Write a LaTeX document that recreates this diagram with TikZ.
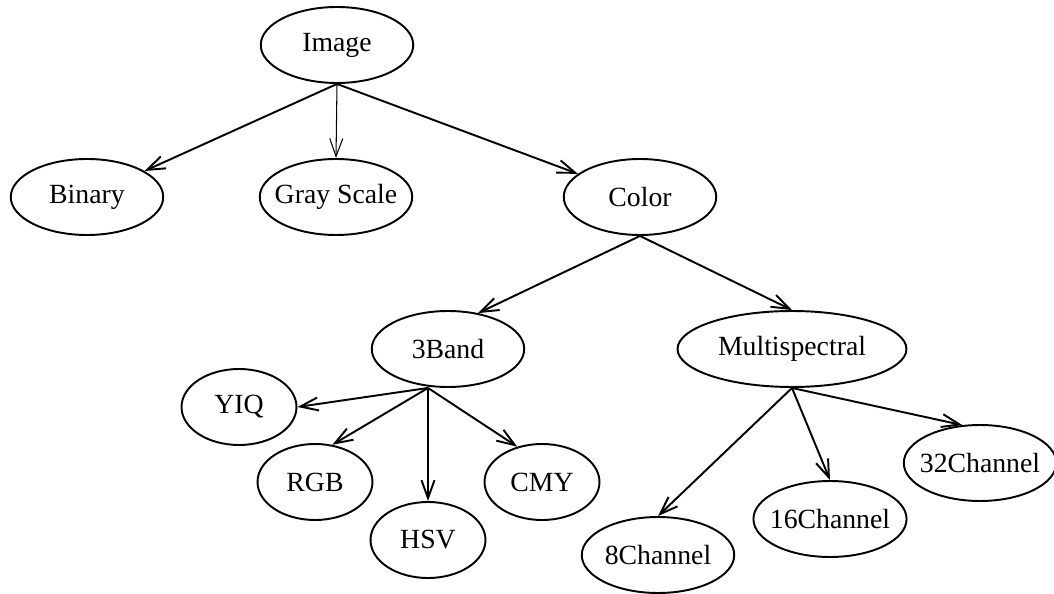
\documentclass[tikz,border=0pt]{standalone}
\usepackage{fontspec}
\setmainfont{Liberation Serif}
\usepackage{tikz}
\usetikzlibrary{arrows.meta, positioning, shapes.geometric}

\begin{document}
\begin{tikzpicture}[
  x=0.02cm, y=-0.02cm,
  oval/.style={ellipse, draw, line width=1.1pt, inner sep=0pt, minimum height=1.52cm,
               font=\fontsize{15.8}{18}\selectfont},
  smalloval/.style={oval, minimum width=2.3cm},
  midoval/.style={oval, minimum width=3.05cm},
  wideoval/.style={oval, minimum width=4.58cm},
  arr/.style={-{Straight Barb[length=3.6mm,width=2.6mm]}, line width=1.1pt}
]
  \useasboundingbox (0,0) rectangle (1054,594);

  \node[midoval] (img) at (337,45) {Image};
  \node[midoval] (bin) at (87,197) {Binary};
  \node[midoval, inner xsep=-0.18cm] (gray) at (336,197) {Gray Scale};
  \node[midoval] (col) at (640,197) {Color};

  \node[midoval] (band) at (448,349) {3Band};
  \node[wideoval] (multi) at (792,349) {Multispectral};

  \node[smalloval] (yiq) at (239,407) {YIQ};
  \node[smalloval] (rgb) at (315,482) {RGB};
  \node[smalloval] (hsv) at (428,540) {HSV};
  \node[smalloval] (cmy) at (542,482) {CMY};

  \node[midoval] (ch8) at (658,555) {8Channel};
  \node[midoval, inner xsep=-0.12cm] (ch16) at (830,519) {16Channel};
  \node[midoval, inner xsep=-0.15cm] (ch32) at (980,463) {32Channel};

  \coordinate (bandfoot) at ([xshift=-0.4cm]band.south);

  \draw[arr] (img.south) -- (bin);
  \draw[arr, line width=0.6pt] (img.south) -- (gray.north);
  \draw[arr] (img.south) -- (col);

  \draw[arr] (col.south) -- (band.50);
  \draw[arr] (col.south) -- (multi.north);

  \draw[arr] (bandfoot) -- (yiq.east);
  \draw[arr] (bandfoot) -- (rgb.65);
  \draw[arr] (bandfoot) -- (hsv.north);
  \draw[arr] (bandfoot) -- (cmy.125);

  \draw[arr] (multi.south) -- (ch8.north);
  \draw[arr] (multi.south) -- (ch16.north);
  \draw[arr] (multi.south) -- (ch32.115);
\end{tikzpicture}
\end{document}
